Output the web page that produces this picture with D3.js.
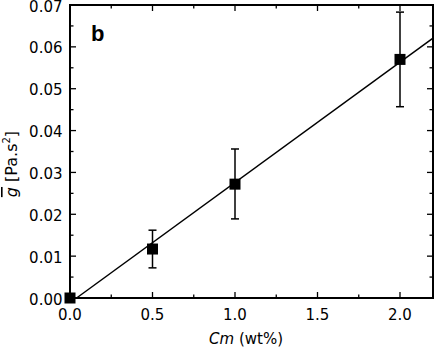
<!DOCTYPE html>
<html>
<head>
<meta charset="utf-8">
<script src="https://cdn.jsdelivr.net/npm/d3@7"></script>
<style>
  body { margin: 0; background: #fff; }
  text { font-family: "DejaVu Sans", sans-serif; fill: #000; }
</style>
</head>
<body>
<svg id="chart"></svg>
<script>
// data
const cm = [0.0, 0.5, 1.0, 2.0];
const gBar = [0.0, 0.0117, 0.0272, 0.0570];
const errLow = [0.0, 0.0072, 0.0189, 0.0457];
const errHigh = [0.0, 0.0162, 0.0356, 0.0683];
const fitX = [0.04, 2.2];
const fitY = [0.0, 0.0621];
const xTicks = [0.0, 0.5, 1.0, 1.5, 2.0];
const yTicks = [0.00, 0.01, 0.02, 0.03, 0.04, 0.05, 0.06, 0.07];

const w = 436, h = 354;
const margin = { top: 5, right: 3, bottom: 56, left: 70 };

const svg = d3.select("#chart").attr("width", w).attr("height", h);

const xScale = d3.scaleLinear().domain([0, 2.2]).range([margin.left, w - margin.right]);
const yScale = d3.scaleLinear().domain([0, 0.07]).range([h - margin.bottom, margin.top]);

const x0 = xScale.range()[0], x1 = xScale.range()[1];
const y0 = yScale.range()[0], y1 = yScale.range()[1];

const xMinor = d3.range(0.25, 2.2, 0.5);
const yMinor = d3.range(0.005, 0.07, 0.01);

const axes = svg.append("g");

// tick marks, pointing inward on all four sides
xTicks.forEach(t => {
  axes.append("line").attr("x1", xScale(t)).attr("x2", xScale(t)).attr("y1", y0).attr("y2", y0 - 6);
  axes.append("line").attr("x1", xScale(t)).attr("x2", xScale(t)).attr("y1", y1).attr("y2", y1 + 6);
});
xMinor.forEach(t => {
  axes.append("line").attr("x1", xScale(t)).attr("x2", xScale(t)).attr("y1", y0).attr("y2", y0 - 3.5);
  axes.append("line").attr("x1", xScale(t)).attr("x2", xScale(t)).attr("y1", y1).attr("y2", y1 + 3.5);
});
yTicks.forEach(t => {
  axes.append("line").attr("x1", x0).attr("x2", x0 + 6).attr("y1", yScale(t)).attr("y2", yScale(t));
  axes.append("line").attr("x1", x1).attr("x2", x1 - 6).attr("y1", yScale(t)).attr("y2", yScale(t));
});
yMinor.forEach(t => {
  axes.append("line").attr("x1", x0).attr("x2", x0 + 3.5).attr("y1", yScale(t)).attr("y2", yScale(t));
  axes.append("line").attr("x1", x1).attr("x2", x1 - 3.5).attr("y1", yScale(t)).attr("y2", yScale(t));
});
axes.selectAll("line").attr("stroke", "#000").attr("stroke-width", 1.3);

// frame
axes.append("rect")
  .attr("x", x0).attr("y", y1)
  .attr("width", x1 - x0).attr("height", y0 - y1)
  .attr("fill", "none").attr("stroke", "#000").attr("stroke-width", 2);

// tick labels
svg.append("g").selectAll("text").data(xTicks).join("text")
  .attr("x", d => xScale(d)).attr("y", y0 + 22)
  .attr("text-anchor", "middle").style("font-size", "15px")
  .text(d => d.toFixed(1));

svg.append("g").selectAll("text").data(yTicks).join("text")
  .attr("x", x0 - 7.5).attr("y", d => yScale(d) + 6.5)
  .attr("text-anchor", "end").style("font-size", "15px")
  .text(d => d.toFixed(2));

// axis titles
const xt = svg.append("text").attr("x", 246).attr("y", 344)
  .attr("text-anchor", "middle").style("font-size", "15px");
xt.append("tspan").style("font-style", "italic").text("Cm");
xt.append("tspan").text(" (wt%)");

const yt = svg.append("text")
  .attr("transform", "translate(17,164) rotate(-90)")
  .attr("text-anchor", "middle").style("font-size", "16px");
yt.append("tspan").style("font-style", "italic").style("text-decoration", "overline").text("g");
yt.append("tspan").text(" [Pa.s");
yt.append("tspan").attr("dy", -7).style("font-size", "10px").text("2");
yt.append("tspan").attr("dy", 7).text("]");

// panel letter
svg.append("text").attr("x", 91).attr("y", 41)
  .style("font-family", "'Liberation Sans', Arial, sans-serif")
  .style("font-size", "22px").style("font-weight", "bold").text("b");

const plot = svg.append("g");

// linear fit
plot.append("line")
  .attr("x1", xScale(fitX[0])).attr("y1", yScale(fitY[0]))
  .attr("x2", xScale(fitX[1])).attr("y2", yScale(fitY[1]))
  .attr("stroke", "#000").attr("stroke-width", 1.5);

// error bars
const idx = d3.range(cm.length).filter(i => errHigh[i] > errLow[i]);
const capW = 4;
idx.forEach(i => {
  const cx = xScale(cm[i]);
  plot.append("line").attr("x1", cx).attr("x2", cx)
    .attr("y1", yScale(errLow[i])).attr("y2", yScale(errHigh[i]));
  plot.append("line").attr("x1", cx - capW).attr("x2", cx + capW)
    .attr("y1", yScale(errLow[i])).attr("y2", yScale(errLow[i]));
  plot.append("line").attr("x1", cx - capW).attr("x2", cx + capW)
    .attr("y1", yScale(errHigh[i])).attr("y2", yScale(errHigh[i]));
});
plot.selectAll("line").attr("stroke", "#000").attr("stroke-width", 1.5);

// square markers
const sq = 11;
svg.append("g").selectAll("rect").data(cm).join("rect")
  .attr("x", (d, i) => xScale(d) - sq / 2)
  .attr("y", (d, i) => yScale(gBar[i]) - sq / 2)
  .attr("width", sq).attr("height", sq)
  .attr("fill", "#000");
</script>
</body>
</html>
